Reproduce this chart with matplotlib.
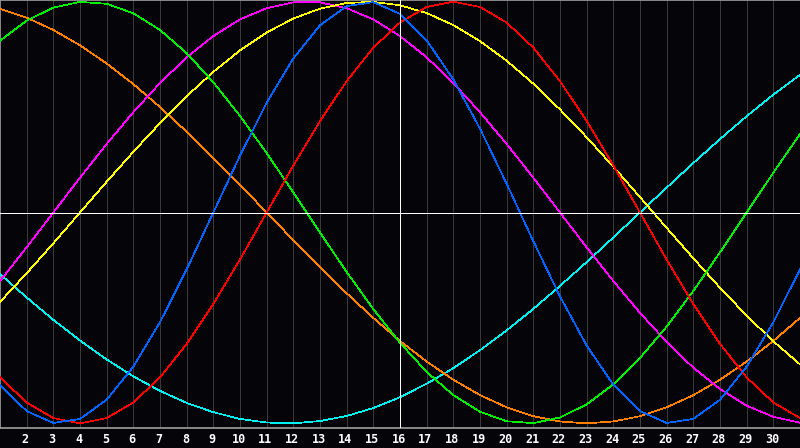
import numpy as np
import matplotlib
matplotlib.use('Agg')
import matplotlib.pyplot as plt

# days of the month shown, 1..31 (grid/labels for 2..30)
days = list(range(1, 32))
tick_days = list(range(2, 31))

# cycle values, one per day (-1 .. 1)
red = [-0.782, -0.901, -0.975, -1.0, -0.975, -0.901, -0.782, -0.623, -0.434, -0.223, 0.0, 0.223, 0.434, 0.623, 0.782, 0.901, 0.975, 1.0, 0.975, 0.901, 0.782, 0.623, 0.434, 0.223, 0.0, -0.223, -0.434, -0.623, -0.782, -0.901, -0.975]
blue = [-0.817, -0.942, -0.998, -0.979, -0.888, -0.731, -0.52, -0.27, 0.0, 0.27, 0.52, 0.731, 0.888, 0.979, 0.998, 0.942, 0.817, 0.631, 0.398, 0.136, -0.136, -0.398, -0.631, -0.817, -0.942, -0.998, -0.979, -0.888, -0.731, -0.52, -0.27]
magenta = [-0.325, -0.165, 0.0, 0.165, 0.325, 0.476, 0.614, 0.736, 0.837, 0.916, 0.969, 0.997, 0.997, 0.969, 0.916, 0.837, 0.736, 0.614, 0.476, 0.325, 0.165, 0.0, -0.165, -0.325, -0.476, -0.614, -0.736, -0.837, -0.916, -0.969, -0.997]
yellow = [-0.424, -0.288, -0.146, 0.0, 0.146, 0.288, 0.424, 0.552, 0.667, 0.769, 0.854, 0.92, 0.967, 0.994, 0.999, 0.983, 0.946, 0.889, 0.813, 0.72, 0.611, 0.489, 0.357, 0.217, 0.073, -0.073, -0.217, -0.357, -0.489, -0.611, -0.72]
green = [0.815, 0.91, 0.972, 0.999, 0.99, 0.945, 0.866, 0.756, 0.618, 0.458, 0.282, 0.095, -0.095, -0.282, -0.458, -0.618, -0.756, -0.866, -0.945, -0.99, -0.999, -0.972, -0.91, -0.815, -0.69, -0.541, -0.372, -0.189, 0.0, 0.189, 0.372]
orange = [0.966, 0.924, 0.866, 0.793, 0.707, 0.609, 0.5, 0.383, 0.259, 0.131, 0.0, -0.131, -0.259, -0.383, -0.5, -0.609, -0.707, -0.793, -0.866, -0.924, -0.966, -0.991, -1.0, -0.991, -0.966, -0.924, -0.866, -0.793, -0.707, -0.609, -0.5]
cyan = [-0.292, -0.403, -0.509, -0.607, -0.697, -0.777, -0.846, -0.903, -0.947, -0.979, -0.996, -1.0, -0.989, -0.965, -0.927, -0.876, -0.812, -0.738, -0.653, -0.559, -0.457, -0.348, -0.235, -0.118, 0.0, 0.118, 0.235, 0.348, 0.457, 0.559, 0.653]

today = 16

series = [
    (cyan, '#00f0f0'),
    (orange, '#ff8000'),
    (magenta, '#ff00ff'),
    (yellow, '#ffff00'),
    (green, '#00ee00'),
    (red, '#ff0000'),
    (blue, '#0064ff'),
]

bg = '#050408'
fig = plt.figure(figsize=(8, 4.48), dpi=100, facecolor=bg)
ax = fig.add_axes([0, 20/448, 1, 428/448])
ax.set_facecolor(bg)

for d in tick_days:
    ax.axvline(d, color='#3a3a3a', lw=0.5, antialiased=False, zorder=1)

for vals, col in series:
    ax.plot(days, vals, color=col, lw=0.5, antialiased=False, zorder=3)

ax.axhline(0, color='white', lw=0.6, antialiased=False, zorder=4)
ax.axvline(today, color='white', lw=0.6, antialiased=False, zorder=4)

ax.set_xlim(1, 31)
ax.set_ylim(-1.022, 1.008)
ax.set_xticks([])
ax.set_yticks([])
for s in ['left', 'top', 'bottom']:
    ax.spines[s].set_color('#a0a0a0')
    ax.spines[s].set_linewidth(1.2)
ax.spines['right'].set_visible(False)

for d in tick_days:
    ax.text(d - 0.05, -1.022 - 11/210.8, str(d), color='white', fontsize=8.5,
            fontweight='bold', family='DejaVu Sans Mono', ha='center', va='center',
            clip_on=False)

fig.savefig('out.png', dpi=100, facecolor=bg)
